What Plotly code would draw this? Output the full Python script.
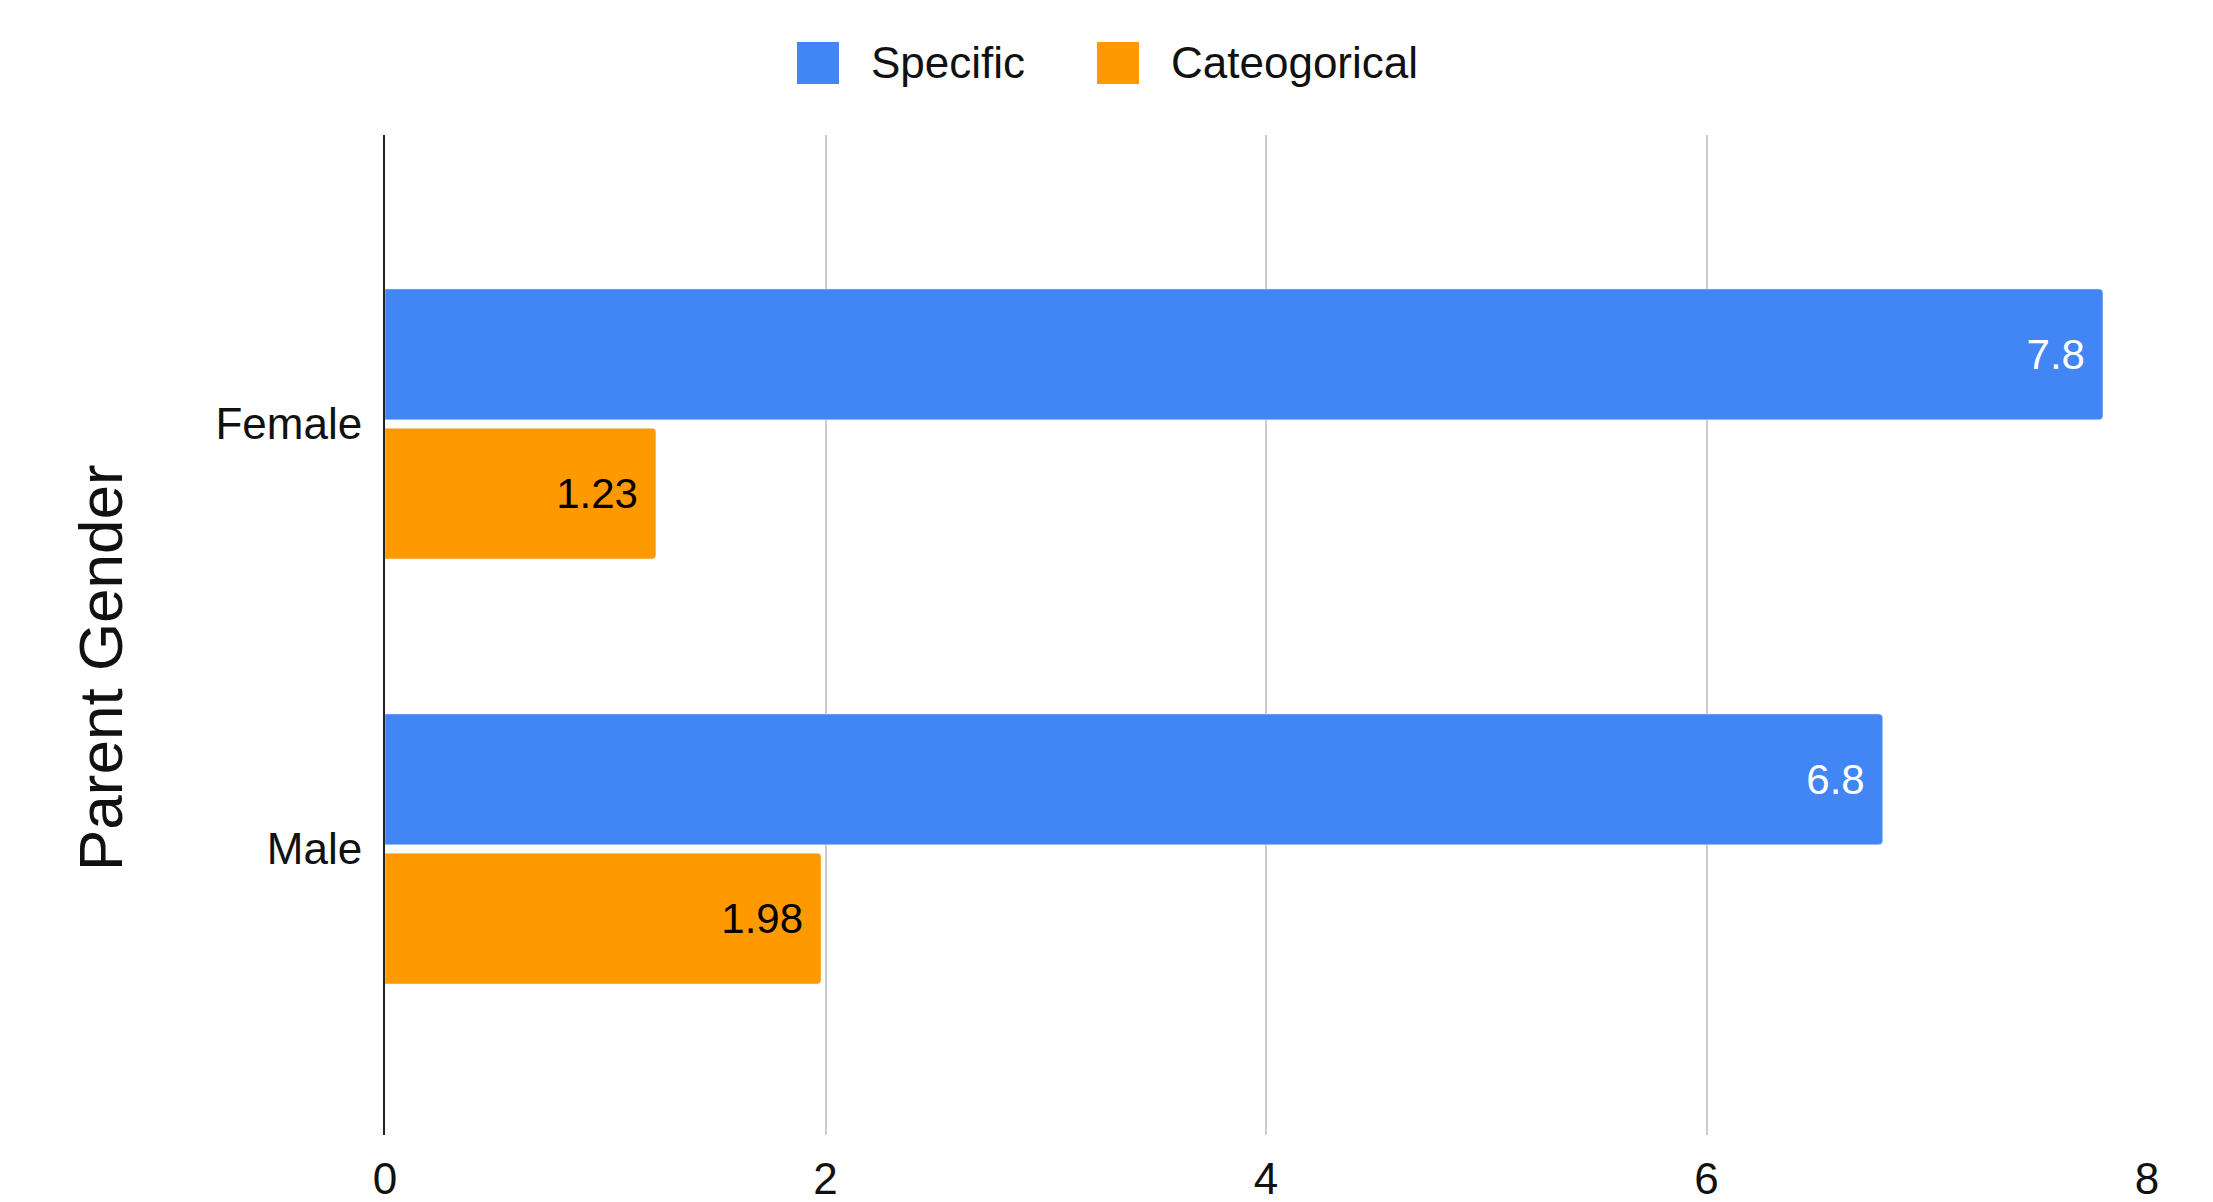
import plotly.graph_objects as go

categories = ["Female", "Male"]
specific = [7.8, 6.8]
categorical = [1.23, 1.98]
series_names = ["Specific", "Cateogorical"]
x_ticks = [0, 2, 4, 6, 8]
y_title = "Parent Gender"

BLUE = "#4285F4"
ORANGE = "#FF9900"
FONT = "Arial, Liberation Sans, sans-serif"
TXT = "#111111"

fig = go.Figure()
fig.add_trace(go.Bar(
    y=categories, x=specific, orientation="h", name=series_names[0],
    marker=dict(color=BLUE, cornerradius=4),
    texttemplate="%{x}\u2004", textposition="inside", insidetextanchor="end",
    textfont=dict(color="white", size=42, family=FONT), showlegend=False,
))
fig.add_trace(go.Bar(
    y=categories, x=categorical, orientation="h", name=series_names[1],
    marker=dict(color=ORANGE, cornerradius=4),
    texttemplate="%{x}\u2004", textposition="inside", insidetextanchor="end",
    textfont=dict(color="black", size=42, family=FONT), showlegend=False,
))

# manual legend (large square swatches)
W, H = 2213, 1202
L, R, T, B = 385, 66, 135, 67
pw, ph = W - L - R, H - T - B
def px(xp):
    return (xp - L) / pw
def py(yp):
    return 1 - (yp - T) / ph
legend_items = [(series_names[0], BLUE, 797), (series_names[1], ORANGE, 1097)]
for name, col, x0 in legend_items:
    fig.add_shape(type="rect", xref="paper", yref="paper",
                  x0=px(x0), x1=px(x0 + 42), y0=py(42), y1=py(84),
                  fillcolor=col, line=dict(width=0))
    fig.add_annotation(xref="paper", yref="paper", x=px(x0 + 72), y=py(63),
                       text=name, showarrow=False, xanchor="left", yanchor="middle",
                       font=dict(size=44, color=TXT, family=FONT))

# y-axis title (placed slightly below the axis centre, as in the reference)
fig.add_annotation(xref="paper", yref="paper", x=px(100), y=py(668),
                   text=y_title, textangle=-90, showarrow=False,
                   xanchor="center", yanchor="middle",
                   font=dict(size=62, color=TXT, family=FONT))

fig.update_layout(
    barmode="group", bargap=0.345, bargroupgap=0.06,
    width=W, height=H,
    margin=dict(l=L, r=R, t=T, b=B),
    plot_bgcolor="white", paper_bgcolor="white",
    font=dict(family=FONT, size=44, color=TXT),
    showlegend=False,
)
fig.update_xaxes(
    range=[0, 8], tickvals=x_ticks, showgrid=True, gridcolor="#cccccc", gridwidth=2,
    zeroline=False, showline=False, ticks="", ticklabelstandoff=14, automargin=False,
    tickfont=dict(size=44, color=TXT),
)
fig.update_yaxes(
    range=[1.673, -0.68], showgrid=False, showline=True, linecolor="#222", linewidth=2,
    ticks="", ticklabelstandoff=12, tickfont=dict(size=44, color=TXT), automargin=False,
)

fig.write_html("out.html")
